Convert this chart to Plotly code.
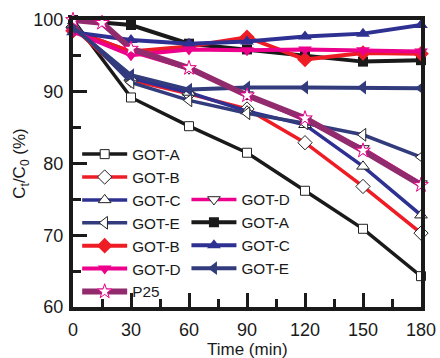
import plotly.graph_objects as go

# Photocatalytic degradation: remaining concentration C_t/C_0 (%) vs time
time = [0, 30, 60, 90, 120, 150, 180]
time_p25 = [0, 15, 30, 60, 90, 120, 150, 180]

# Open-marker series
got_a_open = [100.0, 89.2, 85.2, 81.5, 76.2, 70.9, 64.3]
got_b_open = [99.0, 91.6, 89.7, 87.6, 82.9, 76.8, 70.3]
got_c_open = [99.2, 91.9, 89.9, 87.3, 85.4, 79.6, 72.8]
got_d_open = [98.6, 95.6, 93.2, 89.6, 86.0, 82.1, 77.2]
got_e_open = [99.5, 91.3, 88.8, 87.0, 85.6, 84.0, 80.9]

# Filled-marker series
got_a_fill = [100.0, 99.3, 96.7, 95.9, 95.1, 94.2, 94.4]
got_b_fill = [98.5, 95.6, 96.3, 97.6, 94.5, 95.4, 95.3]
got_c_fill = [98.3, 97.2, 96.7, 97.0, 97.7, 98.1, 99.3]
got_d_fill = [98.4, 95.1, 95.9, 95.8, 95.9, 95.8, 95.6]
got_e_fill = [99.0, 92.3, 90.3, 90.6, 90.6, 90.6, 90.5]

p25 = [100.0, 99.6, 96.0, 93.3, 89.5, 86.3, 81.8, 77.0]

BLACK = "#1a1a1a"
RED = "#ee1c25"
BLUE = "#2e3192"
MAGENTA = "#ec008c"
NAVY = "#323c7d"
PURPLE = "#922b6e"
EDGE = "#222222"

fig = go.Figure()


def add_series(x, y, name, color, symbol, filled, size, lw, legend):
    marker = dict(symbol=symbol, size=size)
    if filled:
        marker.update(color=color, line=dict(color=color, width=0))
    else:
        marker.update(color="white", line=dict(color=EDGE, width=1))
    fig.add_trace(go.Scatter(
        x=x, y=y, name=name, mode="lines+markers",
        line=dict(color=color, width=lw),
        marker=marker, cliponaxis=False, legend=legend,
    ))


add_series(time, got_a_open, "GOT-A", BLACK, "square", False, 9, 3.5, "legend")
add_series(time, got_b_open, "GOT-B", RED, "diamond", False, 11, 3.5, "legend")
add_series(time, got_c_open, "GOT-C", BLUE, "triangle-up", False, 11, 3.5, "legend")
add_series(time, got_d_open, "GOT-D", MAGENTA, "triangle-down", False, 11, 3.5, "legend2")
add_series(time, got_e_open, "GOT-E", NAVY, "triangle-left", False, 11, 3.5, "legend")
add_series(time, got_a_fill, "GOT-A", BLACK, "square", True, 10, 4, "legend2")
add_series(time, got_b_fill, "GOT-B", RED, "diamond", True, 12, 4, "legend")
add_series(time, got_c_fill, "GOT-C", BLUE, "triangle-up", True, 12, 4, "legend2")
add_series(time, got_d_fill, "GOT-D", MAGENTA, "triangle-down", True, 12, 4, "legend")
add_series(time, got_e_fill, "GOT-E", NAVY, "triangle-left", True, 12, 4, "legend2")

fig.add_trace(go.Scatter(
    x=time_p25, y=p25, name="P25", mode="lines+markers",
    line=dict(color=PURPLE, width=6),
    marker=dict(symbol="star", size=11, color="white",
                line=dict(color=MAGENTA, width=1)),
    cliponaxis=False, legend="legend",
))

FONT = "Liberation Sans, Arial, sans-serif"
legend_style = dict(
    bgcolor="rgba(0,0,0,0)", borderwidth=0,
    font=dict(family=FONT, size=15.3, color="#1a1a1a"),
    itemwidth=45, tracegroupgap=0,
    xref="paper", yref="paper", xanchor="left", yanchor="top",
)

fig.update_layout(
    width=440, height=358,
    margin=dict(l=73, r=19, t=20, b=51, autoexpand=False),
    paper_bgcolor="white", plot_bgcolor="white",
    font=dict(family=FONT, size=18, color="#1a1a1a"),
    legend=dict(x=0.012, y=0.59, **legend_style),
    legend2=dict(x=0.326, y=0.432, **legend_style),
    showlegend=True,
    annotations=[dict(
        text="Time (min)", xref="paper", yref="paper", x=0.5, y=-0.147,
        xanchor="center", yanchor="middle", showarrow=False,
        font=dict(family=FONT, size=17, color="#1a1a1a"),
    )],
)

axis_common = dict(
    showline=True, linewidth=4, linecolor=BLACK, mirror=True,
    showgrid=False, zeroline=False, automargin=False,
    ticks="inside", ticklen=14, tickwidth=3, tickcolor=BLACK,
    tickfont=dict(family=FONT, size=18, color="#1a1a1a"),
)

fig.update_xaxes(
    range=[0, 180], tickvals=[0, 30, 60, 90, 120, 150, 180],
    ticklabelstandoff=3,
    minor=dict(dtick=15, ticks="inside", ticklen=8, tickwidth=3, tickcolor=BLACK),
    **axis_common,
)
fig.update_yaxes(
    range=[60, 100], tickvals=[60, 70, 80, 90, 100],
    ticklabelstandoff=2,
    minor=dict(dtick=5, ticks="inside", ticklen=8, tickwidth=3, tickcolor=BLACK),
    title=dict(text="C<sub>t</sub>/C<sub>0</sub> (%)", standoff=4,
               font=dict(family=FONT, size=17)),
    **axis_common,
)

fig.write_html("out.html")
